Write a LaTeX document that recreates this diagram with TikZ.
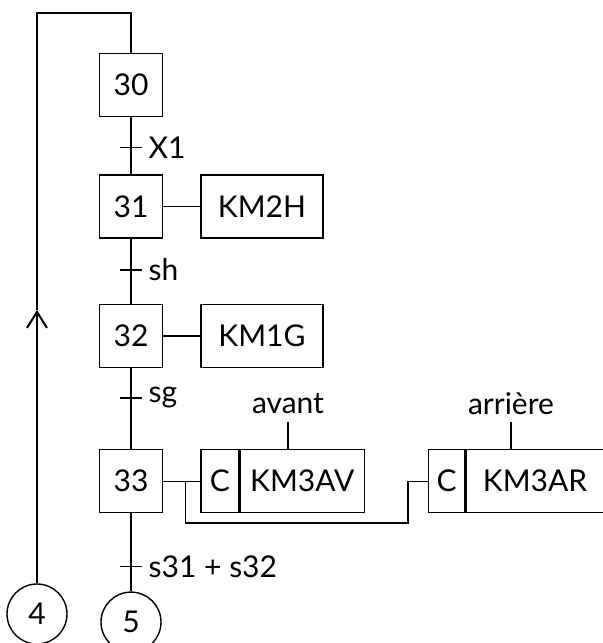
\documentclass[tikz,border=0pt]{standalone}
\usepackage{fontspec}
\setmainfont{Lato}
\usetikzlibrary{arrows.meta,positioning,calc}

\begin{document}
\begin{tikzpicture}[x=0.5pt, y=-0.5pt, line width=0.7pt, font=\fontsize{15}{17}\selectfont, node distance=18.5pt,
  etape/.style={draw, minimum width=31.5pt, minimum height=31.5pt, inner sep=0pt},
  action/.style={draw, minimum width=61pt, minimum height=31.5pt, inner sep=0pt},
  cbox/.style={draw, minimum width=19pt, minimum height=31.5pt, inner sep=0pt},
  renvoi/.style={draw, circle, minimum size=30pt, inner sep=0pt}]
\useasboundingbox (0,0) rectangle (602,643);
\node[etape] (e30) at (131,85) {30};
\node[etape, below=28.5pt of e30] (e31) {31};
\node[etape, below=32.5pt of e31] (e32) {32};
\node[etape, below=40.5pt of e32] (e33) {33};
\node[renvoi, below=39pt of e33] (r5) {5};
\node[renvoi] (r4) at (37,614) {4};
\node[action, right=of e31] (km2h) {KM2H};
\node[action, right=of e32] (km1g) {KM1G};
\node[cbox, right=of e33] (c1) {C};
\node[action, right=0pt of c1, minimum width=62pt] (km3av) {KM3AV};
\node[cbox, right=31.5pt of km3av, minimum width=18pt] (c2) {C};
\node[action, right=0pt of c2, minimum width=69pt] (km3ar) {KM3AR};
\node (avant) at (288,404) {avant};
\node (arriere) at (511,404) {arrière};
% sequence
\draw (e30) -- (e31) coordinate[pos=0.53] (t1); \draw (e31) -- (e32) coordinate[pos=0.48] (t2);
\draw (e32) -- (e33) coordinate[pos=0.37] (t3); \draw (e33) -- (r5) coordinate[pos=0.68] (t4);
\draw ([xshift=-5.5pt]t1) -- ([xshift=5.5pt]t1) node[right, inner sep=3pt] {X1};
\draw ([xshift=-5.5pt]t2) -- ([xshift=5.5pt]t2) node[right, inner sep=3pt] {sh};
\draw ([xshift=-5.5pt]t3) -- ([xshift=5.5pt]t3) node[right, inner sep=3pt] {sg};
\draw ([xshift=-5.5pt]t4) -- ([xshift=5.5pt]t4) node[right, inner sep=3pt] {s31 + s32};
% actions
\draw (e31) -- (km2h); \draw (e32) -- (km1g); \draw (e33) -- (c1);
\coordinate (br) at ($(e33.east)!0.6!(c1.west)$); \coordinate (k) at (408,523);
\draw (br) |- (k) |- (c2.west);
\draw (avant) -- (avant |- km3av.north); \draw (arriere) -- (arriere |- km3ar.north);
% loop back
\coordinate (fl) at (37,310); \coordinate (haut) at (37,13);
\draw[-{Straight Barb[length=8pt, width=10pt, line width=1pt]}] (r4) -- (fl);
\draw (fl) -- (haut) -| (e30);
\end{tikzpicture}
\end{document}
